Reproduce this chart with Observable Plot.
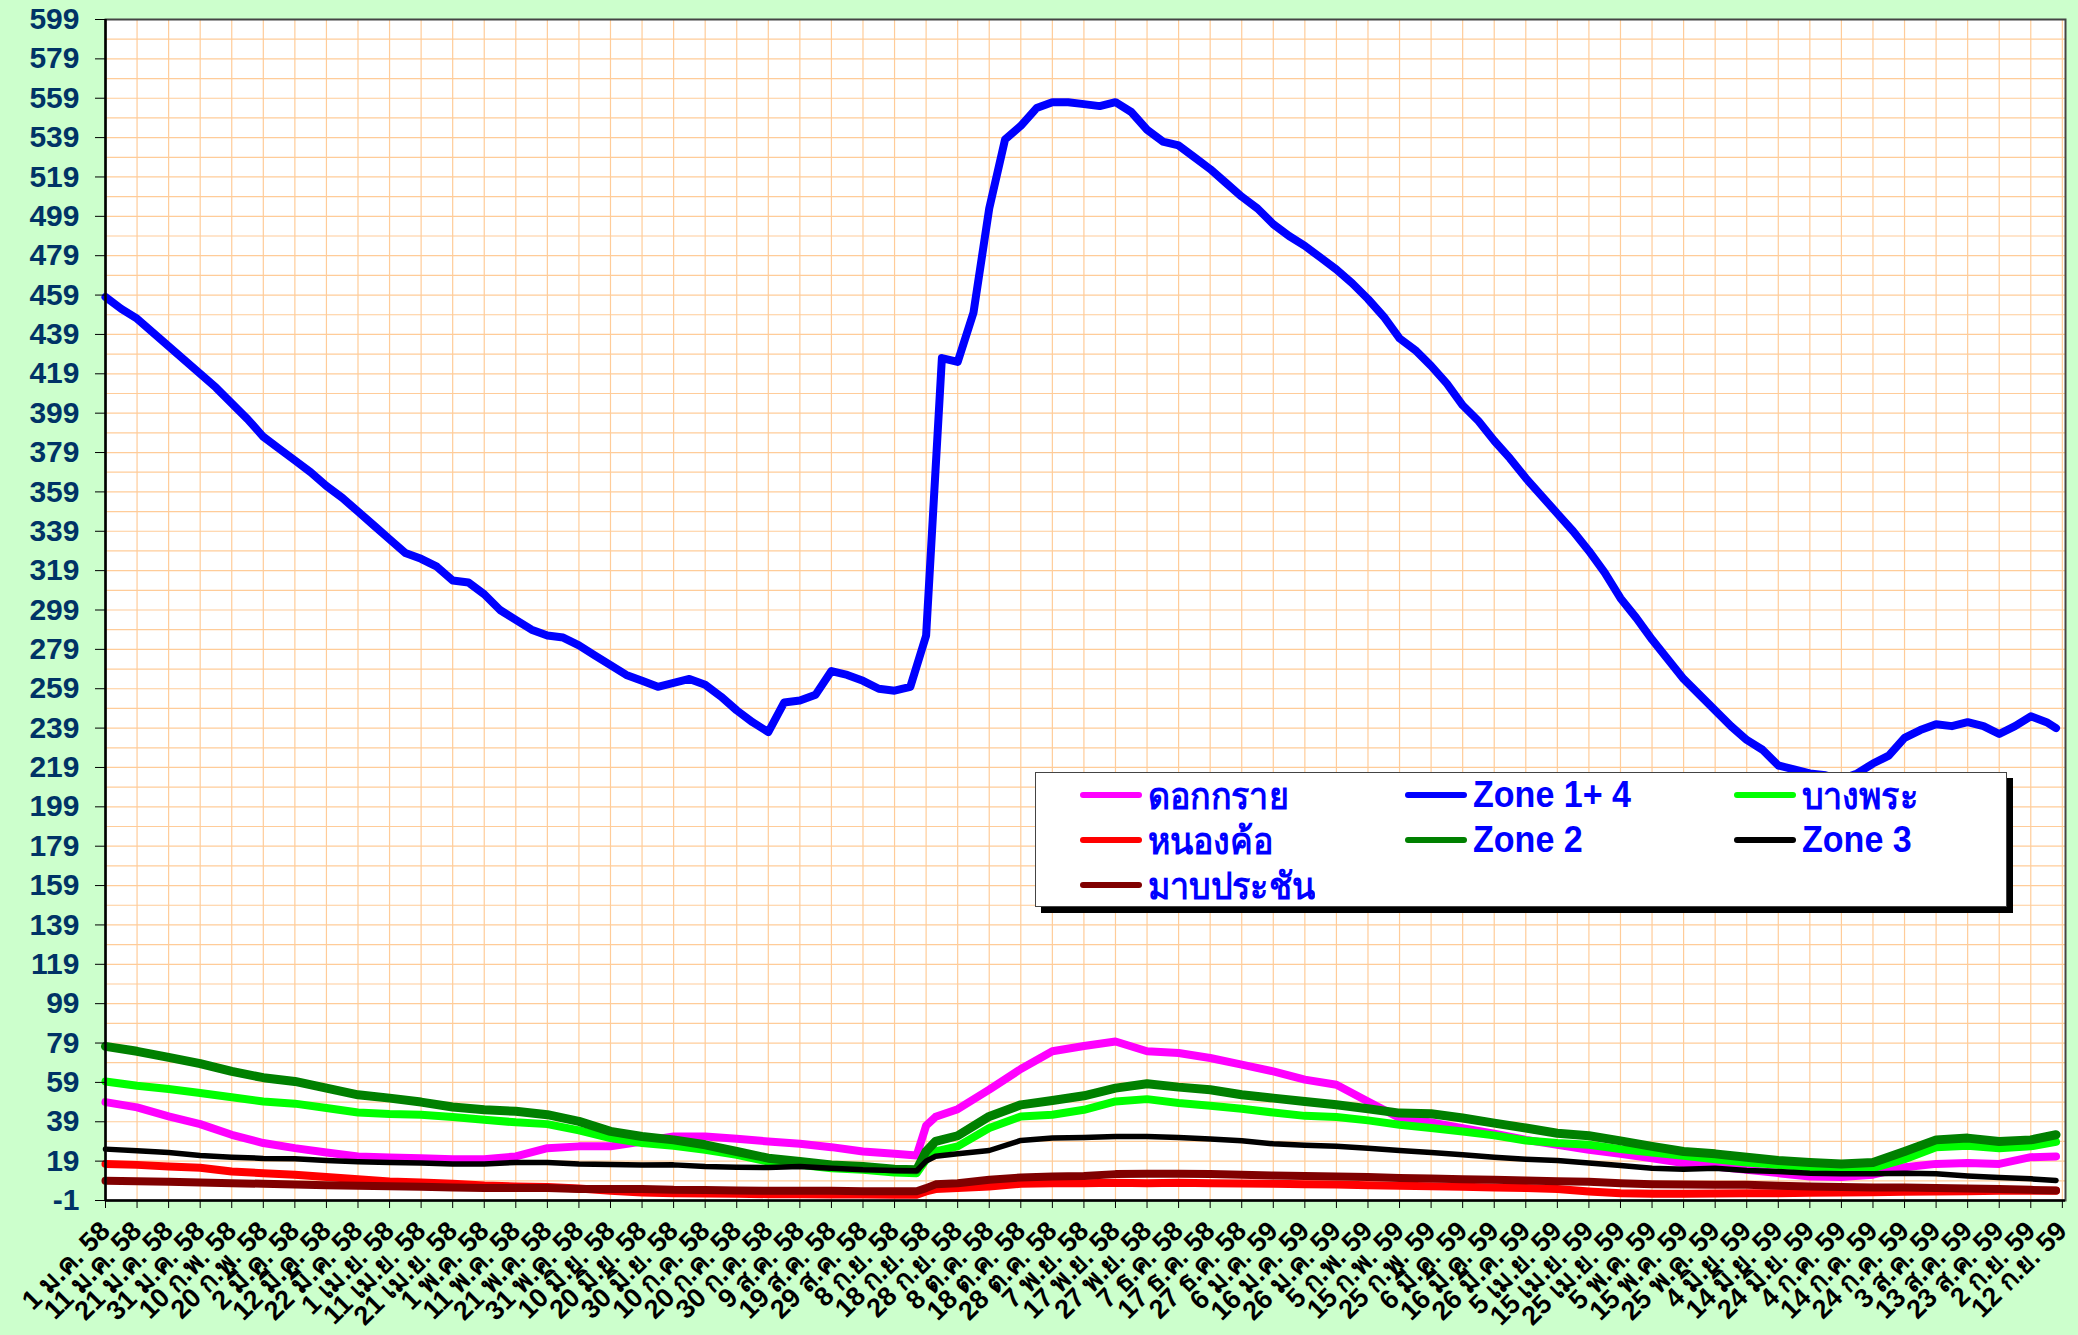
<!DOCTYPE html>
<html><head><meta charset="utf-8">
<script src="https://cdn.jsdelivr.net/npm/d3@7"></script>
<script src="https://cdn.jsdelivr.net/npm/@observablehq/plot@0.6"></script>
<style>
body{margin:0;background:#CCFFCC;}
#wrap{position:relative;width:2078px;height:1335px;background:#CCFFCC;}
#legend{position:absolute;left:1035px;top:772px;width:970px;height:133px;background:#fff;border:1.5px solid #444;box-shadow:6px 6px 0 #000;}
.item{position:absolute;height:44px;display:flex;align-items:center;}
.item span{font-family:"Liberation Sans",Arial,sans-serif;font-weight:bold;font-size:37px;color:#0000FF;margin-left:6px;white-space:nowrap;display:inline-block;transform:scaleX(0.92);transform-origin:left center;}
</style></head>
<body><div id="wrap"><div id="chart"></div><div id="legend"></div></div>
<script>
// ---- data ----
const startDate = Date.UTC(2015, 0, 1);
const thaiMonths = ["ม.ค.","ก.พ.","มี.ค.","เม.ย.","พ.ค.","มิ.ย.","ก.ค.","ส.ค.","ก.ย.","ต.ค.","พ.ย.","ธ.ค."];
const tickDays = d3.range(0, 621, 10);
const yTicks = d3.range(-1, 600, 20);

const seriesNames = ["ดอกกราย","Zone 1+ 4","บางพระ","หนองค้อ","Zone 2","Zone 3","มาบประชัน"];
const seriesColors = ["#FF00FF","#0000FF","#00FF00","#FF0000","#008000","#000000","#800000"];
const seriesWidths = [8, 8, 8, 8, 9, 5.5, 8];

// Zone 1+4 sampled every 5 days
const zone14Days = [0,5,10,15,20,25,30,35,40,45,50,55,60,65,70,75,80,85,90,95,100,105,110,115,120,125,130,135,140,145,150,155,160,165,170,175,180,185,190,195,200,205,210,215,220,225,230,235,240,245,250,255,260,265,270,275,280,285,290,295,300,305,310,315,320,325,330,335,340,345,350,355,360,365,370,375,380,385,390,395,400,405,410,415,420,425,430,435,440,445,450,455,460,465,470,475,480,485,490,495,500,505,510,515,520,525,530,535,540,545,550,555,560,565,570,575,580,585,590,595,600,605,610,615,618];
const zone14 = [458,452,447,440,433,426,419,412,404,396,387,381,375,369,362,356,349,342,335,328,325,321,314,313,307,299,294,289,286,285,281,276,271,266,263,260,262,264,261,255,248,242,237,252,253,256,268,266,263,259,258,260,286,427,425,450,503,538,545,554,557,557,556,555,557,552,543,537,535,529,523,516,509,503,495,489,484,478,472,465,457,448,437,431,423,414,403,395,385,376,366,357,348,339,329,318,305,295,284,274,264,256,248,240,233,228,220,218,216,215,213,216,221,225,234,238,241,240,242,240,236,240,245,242,239];

// other series on a shared day grid
const days = [0,10,20,30,40,50,60,70,80,90,100,110,120,130,140,150,160,170,180,190,200,210,220,230,240,250,257,260,263,270,280,290,300,310,320,330,340,350,360,370,380,390,400,410,420,430,440,450,460,470,480,490,500,510,520,530,540,550,560,570,580,590,600,610,618];
const dokKrai = [49,46.3,41.7,37.8,32.4,28.2,25.6,23.4,21.4,20.9,20.5,20,20,21.4,25.6,26.5,26.5,29,31.5,31.5,30.4,29,27.8,26.1,23.9,22.7,21.9,37,41.5,45.4,55.3,65.8,74.8,77.5,79.8,74.8,73.9,71.4,68,64.6,60.4,57.8,49.3,40.9,38.7,35.8,32.9,29.8,27.3,24.8,22.7,20.5,18,16.3,14.6,12.9,11.2,10.9,12.1,15.9,17.6,18,17.6,21,21.4];
const bangPhra = [59.5,57.3,55.6,53.6,51.5,49.3,48.2,46,43.7,42.9,42.6,41.4,40,38.7,37.8,34.6,30.7,28.2,26.8,24.8,22.2,18.8,17.1,15.4,14.6,13.2,12.9,19.7,24,26.5,35.8,41.7,42.6,45.1,49.3,50.5,48.5,47.1,45.6,43.7,42,41.4,39.7,37.5,35.8,34.1,32.1,29.5,28.2,27.3,25.1,23.4,21.7,20,18.3,17.1,15.9,14.9,15.4,20,26.1,26.8,25.6,26.5,28.8];
const nongKho = [17.6,17.1,16.3,15.6,13.7,12.9,12.1,10.9,9.8,8.7,8.2,7.5,6.6,6.1,5.8,5.1,4,3.1,2.7,2.6,2.4,2.2,2.2,2.1,2,1.9,1.9,3.6,4.8,5.4,6.1,7.5,7.8,7.8,8,7.8,8,7.8,7.6,7.5,7.3,7.1,6.8,6.5,6.3,6,5.6,5.3,4.8,3.6,2.7,2.4,2.4,2.6,2.7,2.7,2.9,3.1,3.2,3.4,3.6,3.7,3.9,3.9,3.9];
const zone2 = [77.3,74.8,71.7,68.5,64.6,61.4,59.5,56.1,52.7,51,49,46.5,45.1,44.3,42.6,39.2,34.1,31.5,29.8,27.3,23.9,20.5,18.8,17.1,16.3,14.9,14.6,24,29,31.9,41.7,47.6,49.8,52.2,56.1,58.3,56.6,55.3,52.7,51,49.3,47.6,45.6,43.4,43.1,40.9,38.3,35.8,33.2,31.9,29.3,26.5,23.9,22.7,21,19.3,18.3,17.6,18.3,23.9,29.8,30.7,29,29.8,32.4];
const zone3 = [25.1,24.3,23.4,21.9,21,20.4,20.2,19.3,18.7,18.3,18,17.6,17.6,18.3,18.3,17.6,17.3,17,17.1,16.3,15.9,15.8,16.3,15.4,14.6,14.3,14.1,19,21.5,22.7,24.4,29.5,30.7,31,31.5,31.5,31,30.2,29.3,27.8,27.1,26.5,25.6,24.4,23.4,22.2,21,20,19.3,18,16.8,15.4,14.9,15.4,14.3,13.7,12.9,12.6,12.6,12.9,12.6,11.5,10.7,10,9.2];
const mapPrachan = [9,8.8,8.5,8.2,7.8,7.5,7.1,6.8,6.5,6.3,6,5.6,5.3,5.3,5.3,4.9,4.8,4.9,4.4,4.3,4.1,3.9,3.9,3.9,3.7,3.7,3.7,5.3,7.2,7.8,9.5,10.7,11.2,11.5,12.4,12.6,12.6,12.4,12.1,11.7,11.4,11.2,10.9,10.4,10.2,9.8,9.5,9.2,8.8,8.5,7.8,7.3,7.1,7,7,6.5,6.1,5.8,5.6,5.6,5.3,5.1,4.8,4.4,4.1];

// ---- build ----
const toDate = d => new Date(startDate + d * 86400000);
const seriesDays = [days, zone14Days, days, days, days, days, days];
const seriesVals = [dokKrai, zone14, bangPhra, nongKho, zone2, zone3, mapPrachan];
const tickDates = tickDays.map(toDate);
const fmt = d => `${d.getUTCDate()} ${thaiMonths[d.getUTCMonth()]} ${(d.getUTCFullYear() + 543) % 100}`;

const lineMarks = seriesNames.map((name, i) => {
  const rows = seriesDays[i].map((d, j) => ({date: toDate(d), value: seriesVals[i][j]}));
  return Plot.line(rows, {x: "date", y: "value", stroke: seriesColors[i], strokeWidth: seriesWidths[i], strokeLinejoin: "round", strokeLinecap: "round"});
});

const chart = Plot.plot({
  width: 2078, height: 1335,
  marginLeft: 105, marginRight: 13, marginTop: 19, marginBottom: 135,
  style: {background: "#CCFFCC", fontFamily: "'Liberation Sans', Arial, sans-serif"},
  x: {type: "utc", domain: [toDate(0), toDate(621)], label: null},
  y: {domain: [-1, 599], label: null},
  marks: [
    Plot.frame({fill: "white"}),
    Plot.gridY(d3.range(-1, 600, 10), {stroke: "#FFCC99", strokeOpacity: 1, strokeWidth: 1.2}),
    Plot.gridX(tickDates, {stroke: "#FFCC99", strokeOpacity: 1, strokeWidth: 1.2}),
    ...lineMarks,
    Plot.frame({stroke: "#444", strokeWidth: 2}),
    Plot.ruleY([-1], {stroke: "black", strokeWidth: 2.5}),
    Plot.ruleX([toDate(0)], {stroke: "black", strokeWidth: 2.5}),
    Plot.axisY(yTicks, {tickSize: 10, tickPadding: 16, tickFormat: d => String(d), stroke: "black", fill: "#003366", fontSize: 30, fontWeight: "bold", label: null}),
    Plot.axisX(tickDates, {tickSize: 8, tickPadding: 18, tickRotate: -45, tickFormat: fmt, stroke: "black", fill: "black", fontSize: 27, fontWeight: "bold", label: null})
  ]
});
document.getElementById("chart").appendChild(chart);

// legend
const legend = document.getElementById("legend");
const colX = [44, 369, 698];
const rowY = [0, 45, 90];
seriesNames.forEach((name, i) => {
  const it = document.createElement("div");
  it.className = "item";
  it.style.left = colX[i % 3] + "px";
  it.style.top = rowY[Math.floor(i / 3)] + "px";
  it.innerHTML = `<svg width="62" height="10"><line x1="3" y1="5" x2="59" y2="5" stroke="${seriesColors[i]}" stroke-width="6" stroke-linecap="round"/></svg><span>${name}</span>`;
  legend.appendChild(it);
});
</script></body></html>
